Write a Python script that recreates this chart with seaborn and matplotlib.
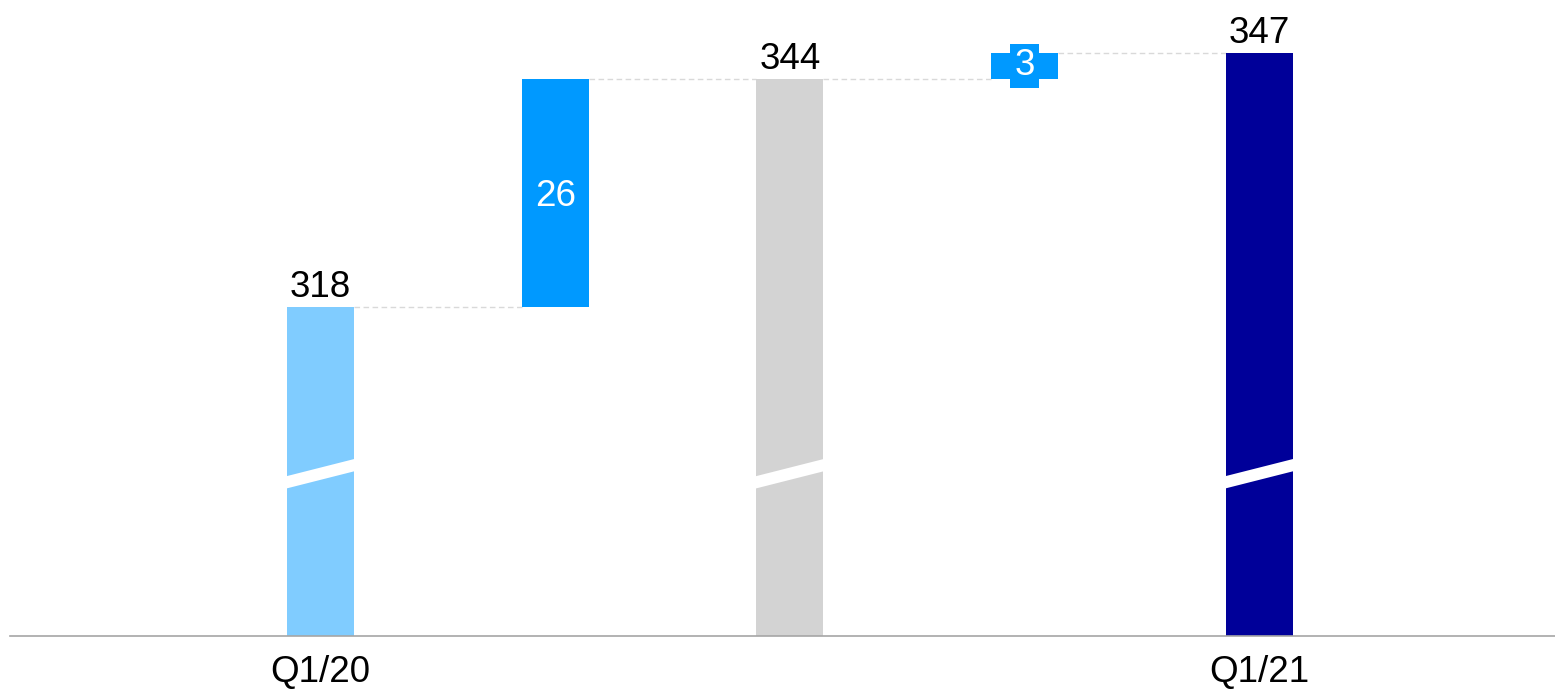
import matplotlib
matplotlib.use("Agg")
import matplotlib.pyplot as plt
import seaborn as sns
import pandas as pd

# Waterfall: Q1/20 -> Q1/21
steps = ["Q1/20", "step1", "subtotal", "step2", "Q1/21"]
tick_labels = ["Q1/20", "", "", "", "Q1/21"]
values = [318, 26, 344, 3, 347]
kinds = ["total", "delta", "total", "delta", "total"]
colors = ["#80CCFF", "#0099FF", "#D3D3D3", "#0099FF", "#000099"]

# bar bottoms: totals rest on the axis, deltas float on the running sum
bases = []
running = 0
for v, k in zip(values, kinds):
    if k == "total":
        bases.append(0)
        running = v
    else:
        bases.append(running)
        running += v
tops = [b + v for b, v in zip(bases, values)]

df = pd.DataFrame({"step": steps, "value": values})

sns.set_theme(style="white")
plt.rcParams["font.family"] = ["Liberation Sans", "DejaVu Sans"]

FS = 26.5

fig = plt.figure(figsize=(15.55, 6.93), dpi=100)
ax = fig.add_axes([10 / 1555, 1 - 636 / 693, 1 - 10 / 1555, 636 / 693])

sns.barplot(data=df, x="step", y="value", hue="step", palette=colors,
            order=steps, hue_order=steps, width=0.285, legend=False,
            saturation=1, linewidth=0, ax=ax)

bars = sorted(ax.patches, key=lambda p: p.get_x())
for p, b in zip(bars, bases):
    p.set_y(b)

ax.set_ylim(280.5, 353.0)
ax.set_xlim(-1.323, 5.26)

# dashed connectors between consecutive bars
half = 0.285 / 2
for i in range(len(steps) - 1):
    level = tops[i]
    ax.plot([i + half, i + 1 - half], [level, level], color="#D9D9D9",
            lw=1, ls=(0, (4, 2.5)), zorder=0.5)

# axis-break marks on the total bars
for i, k in enumerate(kinds):
    if k == "total":
        xl, xr = i - half - 0.005, i + half + 0.005
        ax.fill([xl, xr, xr, xl], [297.3, 299.3, 300.7, 298.7],
                color="white", lw=0, zorder=3)

# value labels
for i, (k, v) in enumerate(zip(kinds, values)):
    if k == "total":
        ax.annotate(f"{v}", (i, tops[i]), xytext=(0, 7), textcoords="offset points",
                    ha="center", va="baseline", fontsize=FS, color="black")
    elif v >= 10:
        ax.text(i, bases[i] + v / 2, f"{v}", ha="center", va="center_baseline",
                fontsize=FS, color="white")
    else:
        ax.text(i, bases[i] + v / 2, f"{v}", ha="center", va="center",
                fontsize=FS, color="white", zorder=4,
                bbox=dict(boxstyle="square,pad=0.12", fc=colors[i], ec="none"))

ax.set_xticks(range(len(steps)))
ax.set_xticklabels(tick_labels, fontsize=FS, color="black")
ax.tick_params(axis="x", length=0, pad=14)
ax.set_yticks([])
ax.set_xlabel("")
ax.set_ylabel("")
for s in ["top", "right", "left"]:
    ax.spines[s].set_visible(False)
ax.spines["bottom"].set_color("#A6A6A6")
ax.spines["bottom"].set_linewidth(1.2)
ax.patch.set_alpha(0)

fig.savefig("out.png", dpi=100)
